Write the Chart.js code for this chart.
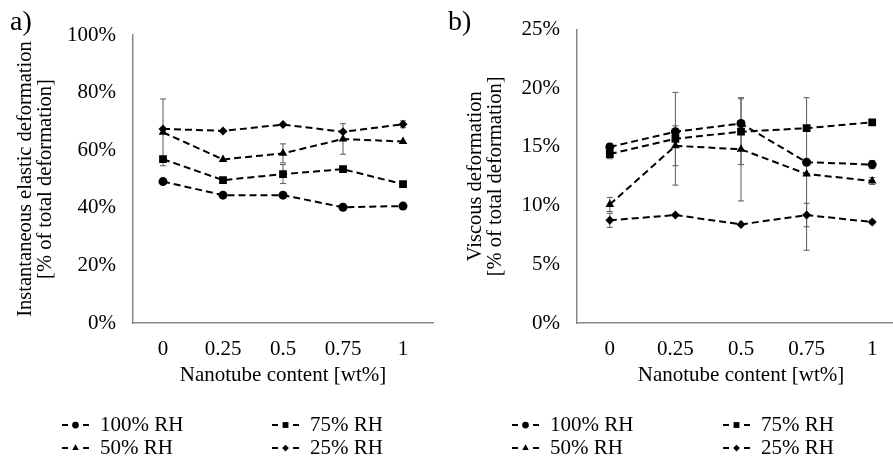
<!DOCTYPE html>
<html>
<head>
<meta charset="utf-8">
<script src="https://cdn.jsdelivr.net/npm/chart.js@4.4.1/dist/chart.umd.min.js"></script>
<style>
body{margin:0;width:893px;height:457px;overflow:hidden;background:#fff;position:relative}
canvas{position:absolute;top:0}
#elastic{left:0}
#viscous{left:446px}
.tag{position:absolute;z-index:2;font:28px 'Liberation Serif',serif;color:#000}
</style>
</head>
<body>
<canvas id="elastic" width="446" height="457"></canvas>
<canvas id="viscous" width="472" height="457"></canvas>
<div class="tag" style="left:10px;top:5px">a)</div>
<div class="tag" style="left:448px;top:5px">b)</div>
<script>
// nanotube content categories
const wt = ['0', '0.25', '0.5', '0.75', '1'];
const rhLabels = ['100% RH', '75% RH', '50% RH', '25% RH'];

// a) instantaneous elastic deformation, % of total
const elastic100 = [49.1, 44.4, 44.4, 40.2, 40.6];
const elastic75 = [56.9, 49.6, 51.7, 53.4, 48.2];
const elastic50 = [66.2, 56.8, 58.9, 63.9, 63.0];
const elastic25 = [67.4, 66.7, 68.9, 66.4, 69.0];
const elasticErr100 = [0, 0, 0, 0, 0];
const elasticErr75 = [0.8, 0, 3.3, 0, 0];
const elasticErr50 = [11.6, 0, 3.3, 5.3, 0];
const elasticErr25 = [0, 0, 0, 0, 1.2];

// b) viscous deformation, % of total
const viscous100 = [15.0, 16.3, 17.0, 13.7, 13.5];
const viscous75 = [14.4, 15.7, 16.3, 16.6, 17.1];
const viscous50 = [10.1, 15.1, 14.8, 12.7, 12.1];
const viscous25 = [8.75, 9.2, 8.4, 9.2, 8.6];
const viscousErr100 = [0.3, 0, 0, 0, 0.35];
const viscousErr75 = [0.4, 3.95, 2.8, 0, 0];
const viscousErr50 = [0.6, 1.7, 4.4, 6.5, 0.3];
const viscousErr25 = [0.6, 0, 0, 1.0, 0.15];

const marks = [
    {style: 'circle', r: 4.5},
    {style: 'rect', r: 5.5},
    {style: 'triangle', r: 5},
    {style: 'rectRot', r: 4.5}
];

Chart.defaults.font.family = "'Liberation Serif', serif";
Chart.defaults.font.size = 21;
Chart.defaults.color = '#000';

const errorBars = {
    id: 'errorBars',
    beforeDatasetsDraw(chart) {
        const {ctx, scales: {x, y}} = chart;
        ctx.save();
        ctx.strokeStyle = '#5a5a5a';
        ctx.lineWidth = 1;
        chart.data.datasets.forEach(ds => {
            (ds.errors || []).forEach((e, i) => {
                if (!e) return;
                const px = x.getPixelForValue(i);
                const top = y.getPixelForValue(ds.data[i] + e);
                const bot = y.getPixelForValue(ds.data[i] - e);
                ctx.beginPath();
                ctx.moveTo(px, top); ctx.lineTo(px, bot);
                ctx.moveTo(px - 3, top); ctx.lineTo(px + 3, top);
                ctx.moveTo(px - 3, bot); ctx.lineTo(px + 3, bot);
                ctx.stroke();
            });
        });
        ctx.restore();
    }
};

// legend drawn as "- marker -  label" in two columns
const dashLegend = {
    id: 'dashLegend',
    afterDraw(chart, args, opts) {
        const ctx = chart.ctx;
        ctx.save();
        chart.data.datasets.forEach((ds, i) => {
            const x0 = opts.x + (i % 2) * opts.colGap;
            const yy = opts.y + Math.floor(i / 2) * opts.rowGap;
            ctx.strokeStyle = '#000';
            ctx.fillStyle = '#000';
            ctx.lineWidth = 2;
            ctx.setLineDash([]);
            ctx.beginPath();
            ctx.moveTo(x0, yy); ctx.lineTo(x0 + 6, yy);
            ctx.moveTo(x0 + 21, yy); ctx.lineTo(x0 + 27, yy);
            ctx.stroke();
            Chart.helpers.drawPoint(ctx, {pointStyle: ds.pointStyle, radius: ds.pointRadius * 0.75, borderWidth: 0, rotation: 0}, x0 + 13.5, yy);
            ctx.font = "21px 'Liberation Serif', serif";
            ctx.textBaseline = 'middle';
            ctx.fillText(ds.label, x0 + 38, yy);
        });
        ctx.restore();
    }
};

function makeChart(id, series, errs, yMax, yStep, yTitle, geo) {
    const datasets = series.map((d, i) => ({
        label: rhLabels[i],
        data: d,
        errors: errs[i],
        borderColor: '#000',
        backgroundColor: '#000',
        borderWidth: 2,
        borderDash: [7, 4],
        pointStyle: marks[i].style,
        pointRadius: marks[i].r,
        pointBorderWidth: 0,
        tension: 0
    }));
    return new Chart(document.getElementById(id), {
        type: 'line',
        data: {labels: wt, datasets: datasets},
        plugins: [errorBars, dashLegend],
        options: {
            responsive: false,
            animation: false,
            layout: {padding: {top: geo.top, right: 13, bottom: 64.8, left: 0}},
            plugins: {
                legend: {display: false},
                tooltip: {enabled: false},
                dashLegend: {x: geo.legX, y: 425, colGap: geo.colGap, rowGap: 23}
            },
            scales: {
                x: {
                    offset: true,
                    grid: {display: false, drawTicks: false},
                    border: {color: '#888', width: 1.5},
                    ticks: {padding: 14},
                    title: {display: true, text: 'Nanotube content [wt%]', padding: {top: 0, bottom: 4}},
                    afterFit: s => { s.height = 69.2; }
                },
                y: {
                    min: 0,
                    max: yMax,
                    grid: {display: false, drawTicks: false},
                    border: {color: '#888', width: 1.5},
                    ticks: {stepSize: yStep, padding: 17, callback: v => v + '%'},
                    title: {display: true, text: yTitle, font: {size: 20.5, lineHeight: 1.0}, padding: {top: geo.titlePad, bottom: 0}},
                    afterFit: s => { s.width = geo.yWidth; }
                }
            }
        }
    });
}

makeChart('elastic',
    [elastic100, elastic75, elastic50, elastic25],
    [elasticErr100, elasticErr75, elasticErr50, elasticErr25],
    100, 20,
    ['Instantaneous elastic deformation', '[% of total deformation]'],
    {top: 35, yWidth: 133, titlePad: 15, legX: 62, colGap: 210});

makeChart('viscous',
    [viscous100, viscous75, viscous50, viscous25],
    [viscousErr100, viscousErr75, viscousErr50, viscousErr25],
    25, 5,
    ['Viscous deformation', '[% of total deformation]'],
    {top: 26, yWidth: 131, titlePad: 19, legX: 66, colGap: 211});
</script>
</body>
</html>
